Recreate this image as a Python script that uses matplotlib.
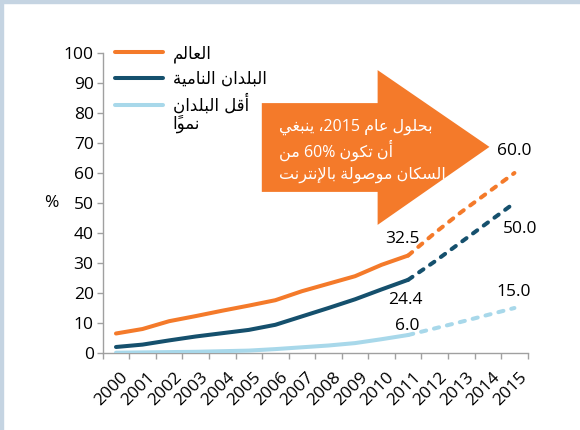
import matplotlib
matplotlib.use('Agg')
import matplotlib.pyplot as plt
import matplotlib.transforms as mtransforms
from matplotlib.patches import Polygon, Rectangle
from matplotlib.lines import Line2D
from matplotlib.text import Annotation

# ---------------------------------------------------------------- data
years = [str(y) for y in range(2000, 2016)]
world = [6.5, 8.0, 10.6, 12.3, 14.1, 15.8, 17.6, 20.6, 23.1, 25.6, 29.4, 32.5]
developing = [2.0, 2.8, 4.2, 5.5, 6.6, 7.7, 9.4, 12.2, 15.0, 17.9, 21.2, 24.4]
ldc = [0.1, 0.2, 0.3, 0.4, 0.6, 0.8, 1.3, 1.9, 2.5, 3.3, 4.6, 6.0]
# projections 2011 -> 2015
world_proj = [32.5, 40.0, 47.0, 53.5, 60.0]
developing_proj = [24.4, 30.5, 37.0, 43.5, 50.0]
ldc_proj = [6.0, 8.2, 10.4, 12.7, 15.0]

series_names = ['العالم', 'البلدان النامية', 'أقل البلدان']
series_name_tail = 'نمواً'
arrow_lines = ['بحلول عام 2015، ينبغي', 'أن تكون 60% من', 'السكان موصولة بالإنترنت']
ylabel = '%'

ORANGE = '#f47a2a'
DARK = '#15506d'
LIGHT = '#a8d8ea'

# ------------------------------------------------- arabic shaping helper
# matplotlib 3.10 does no joining or right-to-left layout, so do it here
FORMS = {
    # letter: (isolated, final, initial, medial)
    '\u0623': ('\uFE83', '\uFE84', None, None),
    '\u0625': ('\uFE87', '\uFE88', None, None),
    '\u0627': ('\uFE8D', '\uFE8E', None, None),
    '\u0628': ('\uFE8F', '\uFE90', '\uFE91', '\uFE92'),
    '\u0629': ('\uFE93', '\uFE94', None, None),
    '\u062A': ('\uFE95', '\uFE96', '\uFE97', '\uFE98'),
    '\u062D': ('\uFEA1', '\uFEA2', '\uFEA3', '\uFEA4'),
    '\u062F': ('\uFEA9', '\uFEAA', None, None),
    '\u0631': ('\uFEAD', '\uFEAE', None, None),
    '\u0633': ('\uFEB1', '\uFEB2', '\uFEB3', '\uFEB4'),
    '\u0635': ('\uFEB9', '\uFEBA', '\uFEBB', '\uFEBC'),
    '\u0639': ('\uFEC9', '\uFECA', '\uFECB', '\uFECC'),
    '\u063A': ('\uFECD', '\uFECE', '\uFECF', '\uFED0'),
    '\u0642': ('\uFED5', '\uFED6', '\uFED7', '\uFED8'),
    '\u0643': ('\uFED9', '\uFEDA', '\uFEDB', '\uFEDC'),
    '\u0644': ('\uFEDD', '\uFEDE', '\uFEDF', '\uFEE0'),
    '\u0645': ('\uFEE1', '\uFEE2', '\uFEE3', '\uFEE4'),
    '\u0646': ('\uFEE5', '\uFEE6', '\uFEE7', '\uFEE8'),
    '\u0648': ('\uFEED', '\uFEEE', None, None),
    '\u064A': ('\uFEF1', '\uFEF2', '\uFEF3', '\uFEF4'),
}
LAM_ALEF = {'\u0627': ('\uFEFB', '\uFEFC'), '\u0623': ('\uFEF7', '\uFEF8'),
            '\u0625': ('\uFEF9', '\uFEFA'), '\u0622': ('\uFEF5', '\uFEF6')}
MARKS = '\u064B\u064C\u064D\u064E\u064F\u0650\u0651\u0652'


def forms_of(key):
    if key.startswith('LA') and len(key) == 3:
        iso, fin = LAM_ALEF[key[2]]
        return (iso, fin, None, None)
    return FORMS.get(key)


def ar(text):
    units = []
    i = 0
    while i < len(text):
        c = text[i]
        if c == '\u0644' and i + 1 < len(text) and text[i + 1] in LAM_ALEF:
            units.append(['LA' + text[i + 1], ''])
            i += 2
            continue
        if c in MARKS and units:
            units[-1][1] += c
        else:
            units.append([c, ''])
        i += 1

    glyphs = []
    for k, (key, marks) in enumerate(units):
        f = forms_of(key)
        if f is None:
            glyphs.append(key + marks)
            continue
        prev = forms_of(units[k - 1][0]) if k > 0 else None
        nxt = forms_of(units[k + 1][0]) if k + 1 < len(units) else None
        jp = prev is not None and prev[2] is not None
        jn = nxt is not None and f[2] is not None
        if jp and jn:
            g = f[3]
        elif jp:
            g = f[1]
        elif jn:
            g = f[2]
        else:
            g = f[0]
        glyphs.append(g + marks)

    # visual order: right to left, digit runs stay left to right
    runs = []
    for g in glyphs:
        ltr = g[0].isdigit() or g[0] in '.%'
        if ltr and runs and runs[-1][0]:
            runs[-1][1].append(g)
        else:
            runs.append([ltr, [g]])
    return ''.join(''.join(r[1]) for r in reversed(runs))


# ---------------------------------------------------------------- plot
NUM_FONT = ['Open Sans', 'DejaVu Sans']
AR_FONT = ['DejaVu Sans']
plt.rcParams['font.family'] = NUM_FONT

fig = plt.figure(figsize=(5.8, 4.3), dpi=100)
ax = fig.add_axes([102.7 / 580, 1 - 353 / 430, 425 / 580, 300 / 430])

# light frame on top and left edge of the picture
fig.patches.append(Rectangle((0, 1 - 3 / 430), 1, 3 / 430, transform=fig.transFigure,
                             color='#c5d4e2', zorder=0))
fig.patches.append(Rectangle((0, 0), 3 / 580, 1, transform=fig.transFigure,
                             color='#c5d4e2', zorder=0))

x_hist = list(range(len(world)))
x_proj = list(range(len(world) - 1, len(years)))

lw = 2.9
dash = (0, (1.3, 2.0))
for hist, proj, col in [(world, world_proj, ORANGE),
                        (developing, developing_proj, DARK),
                        (ldc, ldc_proj, LIGHT)]:
    ax.plot(x_hist, hist, color=col, lw=lw, solid_capstyle='round', zorder=3)
    ax.plot(x_proj, proj, color=col, lw=lw, ls=dash, dash_capstyle='round', zorder=3)

# orange arrow with the note
ax.add_patch(Polygon([(5.49, 83.3), (9.85, 83.3), (9.85, 94.3), (14.06, 68.7),
                      (9.85, 42.7), (9.85, 53.7), (5.49, 53.7)],
                     closed=True, facecolor='#f47a2a', edgecolor='none',
                     clip_on=False, zorder=2))
for line, yv in zip(arrow_lines, [75.3, 67.6, 59.3]):
    ax.text(6.15, yv, ar(line), color='white', fontsize=11.5, ha='left', va='center',
            family=NUM_FONT, zorder=4)

# data labels
pt = 0.72
labels = [(11, world[-1], '32.5', -6, 16.5), (11, developing[-1], '24.4', -3, -20),
          (11, ldc[-1], '6.0', -1, 9), (15, world_proj[-1], '60.0', 0, 22),
          (15, developing_proj[-1], '50.0', 6, -26), (15, ldc_proj[-1], '15.0', -1, 16)]
for xv, yv, txt, dx, dy in labels:
    ax.annotate(txt, (xv, yv), xytext=(dx * pt, dy * pt), textcoords='offset points',
                ha='center', va='center', fontsize=12.5, color='black', zorder=4)

# legend
handles = [Line2D([], [], color=c, lw=lw, solid_capstyle='round') for c in (ORANGE, DARK, LIGHT)]
leg = ax.legend(handles, [ar(s) for s in series_names], loc='upper left',
                bbox_to_anchor=(0.029, 1.03), frameon=False, borderpad=0,
                borderaxespad=0, handlelength=2.85, handletextpad=0.6,
                labelspacing=0.42, prop={'family': AR_FONT, 'size': 12})
tail = Annotation(ar(series_name_tail), xy=(0, 0), xycoords=leg.get_texts()[2],
                  xytext=(0, 0), textcoords='offset points', ha='left', va='top',
                  fontsize=12, family=AR_FONT)
fig.add_artist(tail)

# axes
ax.set_xlim(-0.5, len(years) - 0.5)
ax.set_ylim(0, 100)
ax.set_yticks(range(0, 101, 10))
ax.set_xticks(range(len(years)))
ax.set_xticks([i - 0.5 for i in range(len(years) + 1)], minor=True)
ax.set_xticklabels(years, rotation=45, ha='right', va='center', rotation_mode='anchor')
ax.tick_params(axis='x', which='major', length=0, pad=16, labelsize=12.5)
ax.tick_params(axis='x', which='minor', length=4.5, width=1, color='#a0a0a0', direction='out')
ax.tick_params(axis='y', length=4.5, width=1, color='#a0a0a0', pad=2, labelsize=12.5)
shift = mtransforms.ScaledTranslation(10 / 100, 0, fig.dpi_scale_trans)
for lab in ax.get_xticklabels():
    lab.set_transform(lab.get_transform() + shift)

for side in ('top', 'right'):
    ax.spines[side].set_visible(False)
for side in ('left', 'bottom'):
    ax.spines[side].set_color('#a0a0a0')
    ax.spines[side].set_linewidth(1)

ax.set_ylabel(ylabel, rotation=0, fontsize=12.5, ha='center', va='center')
ax.yaxis.set_label_coords(-0.12, 0.5)

fig.savefig('out.png', dpi=100)
